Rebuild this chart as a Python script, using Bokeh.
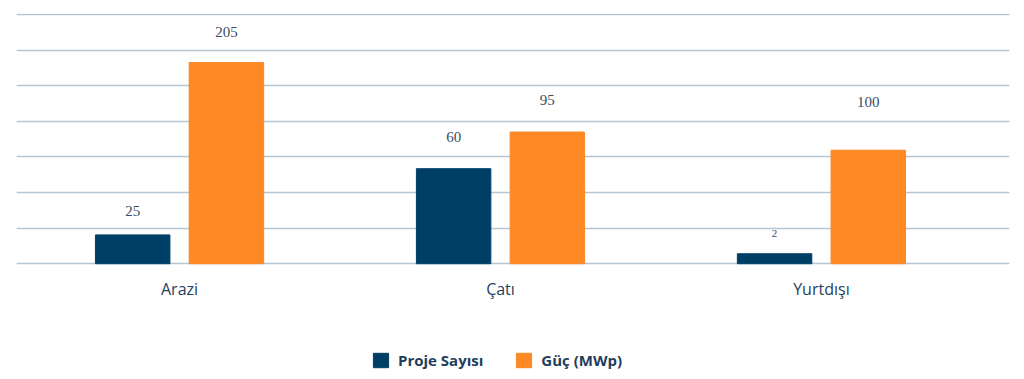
from bokeh.plotting import figure
from bokeh.models import (ColumnDataSource, Range1d, FixedTicker, Legend, LegendItem)
from bokeh.core.properties import value
from bokeh.embed import file_html
from bokeh.resources import INLINE

# ---- data (bar heights in gridline units) ----
categories = ["Arazi", "Çatı", "Yurtdışı"]
proje_heights = [0.81, 2.67, 0.28]
guc_heights = [5.65, 3.70, 3.19]
proje_labels = ["25", "60", "2"]
guc_labels = ["205", "95", "100"]
proje_label_y = [1.47, 3.55, 0.85]
guc_label_y = [6.50, 4.59, 4.54]
proje_label_size = ["15px", "15px", "11px"]
series_names = ["Proje Sayısı", "Güç (MWp)"]

NAVY = "#003f65"
ORANGE = "#fd8824"
GRID = "#b3c6d5"

idx = list(range(len(categories)))
offset = 0.146
bar_w = 0.232
proje_x = [i - offset for i in idx]
guc_x = [i + offset for i in idx]

src_p = ColumnDataSource(dict(x=proje_x, top=proje_heights, lab=proje_labels, ly=proje_label_y,
                              fs=proje_label_size))
src_g = ColumnDataSource(dict(x=guc_x, top=guc_heights, lab=guc_labels, ly=guc_label_y))

p = figure(width=1016, height=375, output_backend="svg", toolbar_location=None,
           x_range=Range1d(-0.508, 2.586), y_range=Range1d(-3.14, 7.03),
           min_border_left=16, min_border_right=7, min_border_top=13, min_border_bottom=0)
p.outline_line_color = None
p.background_fill_color = "white"
p.border_fill_color = "white"

r1 = p.vbar(x="x", top="top", width=bar_w, bottom=0, source=src_p, fill_color=NAVY, line_color=NAVY)
r2 = p.vbar(x="x", top="top", width=bar_w, bottom=0, source=src_g, fill_color=ORANGE, line_color=ORANGE)

p.text(x="x", y="ly", text="lab", source=src_p, text_align="center", text_baseline="middle",
       text_font=value("Liberation Serif"), text_font_size={"field": "fs"}, text_color="#3b4d61")
p.text(x="x", y="ly", text="lab", source=src_g, text_align="center", text_baseline="middle",
       text_font=value("Liberation Serif"), text_font_size="15px", text_color="#3b4d61")

# axes
p.yaxis.visible = False
p.xaxis.fixed_location = 0
p.xaxis.ticker = FixedTicker(ticks=idx)
p.xaxis.major_label_overrides = {i: c for i, c in zip(idx, categories)}
p.xaxis.axis_line_color = None
p.xaxis.major_tick_line_color = None
p.xaxis.minor_tick_line_color = None
p.xaxis.major_label_standoff = 8
p.xaxis.major_label_text_font = "Open Sans"
p.xaxis.major_label_text_font_size = "16px"
p.xaxis.major_label_text_color = "#1f3d5c"

p.xgrid.visible = False
p.ygrid.ticker = FixedTicker(ticks=list(range(0, 8)))
p.ygrid.grid_line_color = GRID
p.ygrid.grid_line_width = 1.5

legend = Legend(items=[LegendItem(label=series_names[0], renderers=[r1]),
                       LegendItem(label=series_names[1], renderers=[r2])],
                orientation="horizontal", location=(355, 5),
                glyph_width=19, glyph_height=18, label_standoff=8, spacing=31,
                label_text_font="Open Sans", label_text_font_style="bold",
                label_text_font_size="15px", label_text_color="#1f3d5c",
                border_line_color=None, background_fill_alpha=0, margin=0, padding=0)
p.add_layout(legend, "center")

open("out.html", "w").write(file_html(p, INLINE))
